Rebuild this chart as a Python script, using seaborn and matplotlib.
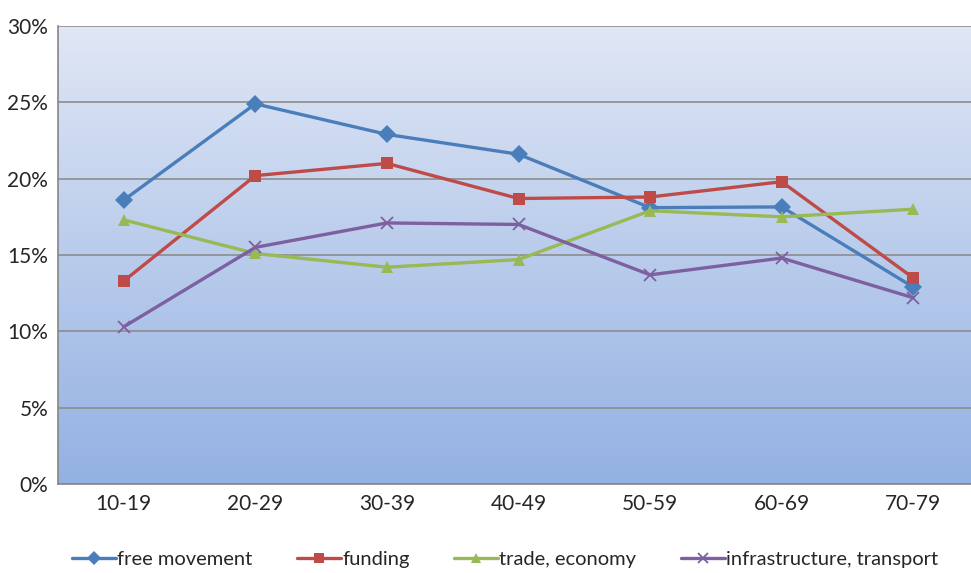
import seaborn as sns
import pandas as pd
import numpy as np
import matplotlib.pyplot as plt
from matplotlib.colors import LinearSegmentedColormap
from matplotlib.ticker import FixedLocator, PercentFormatter

# age groups on the x axis
age_groups = ["10-19", "20-29", "30-39", "40-49", "50-59", "60-69", "70-79"]

# share of answers (%)
free_movement = [18.6, 24.9, 22.9, 21.6, 18.1, 18.15, 12.9]
funding = [13.3, 20.2, 21.0, 18.7, 18.8, 19.8, 13.5]
trade_economy = [17.3, 15.1, 14.2, 14.7, 17.9, 17.5, 18.0]
infrastructure = [10.3, 15.5, 17.1, 17.0, 13.7, 14.8, 12.2]

series_names = ["free movement", "funding", "trade, economy", "infrastructure, transport"]
series_vals = [free_movement, funding, trade_economy, infrastructure]

rows = []
for name, vals in zip(series_names, series_vals):
    for g, v in zip(age_groups, vals):
        rows.append({"age": g, "share": v, "topic": name})
df = pd.DataFrame(rows)

sns.set_style("white")
plt.rcParams['font.family'] = ['Lato', 'DejaVu Sans']

palette = {"free movement": "#4a7ebb", "funding": "#be4b48",
           "trade, economy": "#98b954", "infrastructure, transport": "#7d60a0"}
markers = {"free movement": "D", "funding": "s",
           "trade, economy": "^", "infrastructure, transport": "X"}

f = plt.figure(figsize=(9.71, 5.73), dpi=100)
ax = f.add_axes([58/971, 89/573, (979-58)/971, 458/573])

# gradient background like the spreadsheet chart
cmap = LinearSegmentedColormap.from_list("bg", ["#93b1e2", "#e0e7f5"])
grad = np.linspace(0, 1, 256).reshape(-1, 1)
ax.imshow(grad, cmap=cmap, aspect='auto', extent=[0, 1, 0, 1],
          transform=ax.transAxes, origin='lower', zorder=0)

sns.lineplot(data=df, x="age", y="share", hue="topic", style="topic",
             palette=palette, markers=markers, dashes=False, linewidth=2.4,
             markersize=9, markeredgewidth=0, sort=False, ax=ax, zorder=3)
# x markers need an edge to show
for line in ax.lines:
    if line.get_color() == "#7d60a0":
        line.set_marker("x")
        line.set_markeredgewidth(1.3)
        line.set_markeredgecolor("#7d60a0")

ax.set_xlim(-0.5, 6.5)
ax.set_ylim(0, 30)
ax.set_yticks(np.arange(0, 31, 5))
ax.yaxis.set_major_formatter(PercentFormatter(decimals=0))
ax.xaxis.set_minor_locator(FixedLocator(np.arange(-0.5, 7, 1)))
ax.tick_params(axis='x', which='major', length=0, pad=7, labelsize=15)
ax.tick_params(axis='x', which='minor', length=6, color='#868686', width=1, direction='out')
ax.tick_params(axis='y', length=5, color='#868686', width=1, direction='out', pad=2, labelsize=15)
ax.yaxis.grid(True, color='#8c8c8c', linewidth=1.2, zorder=1)
ax.set_axisbelow(True)
for s in ['top', 'right']:
    ax.spines[s].set_visible(False)
for s in ['left', 'bottom']:
    ax.spines[s].set_color('#868686')
    ax.spines[s].set_linewidth(1.2)
ax.set_xlabel("")
ax.set_ylabel("")

handles, labels = ax.get_legend_handles_labels()
ax.get_legend().remove()
f.legend(handles, labels, loc='center', bbox_to_anchor=(0.52, 0.024), ncol=4,
         frameon=False, fontsize=14.5, handlelength=2.2, handletextpad=0.05,
         columnspacing=2.2, markerscale=0.8)

f.savefig("out.png", dpi=100)
